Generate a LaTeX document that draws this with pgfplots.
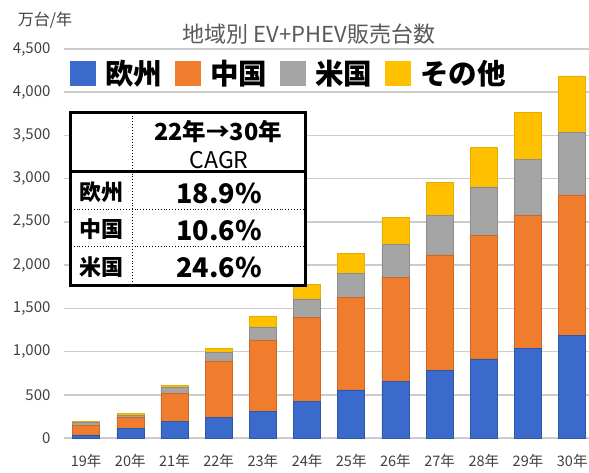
\documentclass[border=0pt]{standalone}
\usepackage{fontspec}
\usepackage{pgfplots}
\pgfplotsset{compat=1.18}
\setmainfont{Noto Sans CJK JP}
\definecolor{cEU}{HTML}{3A6BCC}
\definecolor{cCN}{HTML}{F07C2E}
\definecolor{cUS}{HTML}{A5A5A5}
\definecolor{cOT}{HTML}{FFC000}
\definecolor{tickc}{HTML}{404040}
\definecolor{titlec}{HTML}{595959}
\begin{document}
\begin{tikzpicture}
\begin{axis}[
  at={(64pt,34pt)}, anchor=south west,
  scale only axis, width=525pt, height=389pt,
  ybar stacked, bar width=27pt,
  xmin=-0.5, xmax=11.38, ymin=0, ymax=4500,
  xtick={0,...,11},
  xticklabels={19年,20年,21年,22年,23年,24年,25年,26年,27年,28年,29年,30年},
  ytick={0,500,...,4500},
  ymajorgrids, grid style={line width=1.5pt, color=black!20},
  axis line style={draw=none},
  major tick length=0pt,
  /pgf/number format/.cd, 1000 sep={,}, assume math mode=true, /pgfplots/.cd,
  yticklabel style={font=\fontsize{15}{15}\selectfont, text=tickc, xshift=-10pt},
  xticklabel style={font=\fontsize{14.5}{14.5}\selectfont, text=tickc, yshift=-13pt},
  legend columns=4,
  legend style={draw=none, fill=none, at={(axis description cs:0.0114,0.9717)}, anchor=north west,
    inner sep=0pt, font=\fontsize{28.5}{28.5}\selectfont\bfseries,
    nodes={inner sep=0pt},
    /tikz/every odd column/.append style={column sep=9pt},
    /tikz/every even column/.append style={column sep=13pt}},
  legend image code/.code={\path[#1, draw=none] (0pt,-12.5pt) rectangle (26pt,12.5pt);},
]
\addplot+[fill=cEU, draw=cEU!80!black, line width=0.5pt] coordinates {(0,35) (1,112) (2,189) (3,235) (4,304) (5,420) (6,556) (7,652) (8,779) (9,914) (10,1034) (11,1184)};
\addplot+[fill=cCN, draw=cCN!85!black, line width=0.5pt] coordinates {(0,115) (1,128) (2,328) (3,656) (4,830) (5,977) (6,1068) (7,1208) (8,1339) (9,1427) (10,1544) (11,1629)};
\addplot+[fill=cUS, draw=cUS!85!black, line width=0.5pt] coordinates {(0,27) (1,26) (2,65) (3,101) (4,151) (5,212) (6,278) (7,378) (8,460) (9,564) (10,643) (11,725)};
\addplot+[fill=cOT, draw=cOT!90!black, line width=0.5pt] coordinates {(0,13) (1,15) (2,28) (3,42) (4,127) (5,170) (6,236) (7,317) (8,382) (9,459) (10,544) (11,652)};
\legend{欧州,中国,米国,その他}
\end{axis}
\begin{scope}[x=1pt, y=-1pt, shift={(0pt,472pt)}]
\node[font=\fontsize{22}{22}\selectfont, text=titlec] at (309,34) {地域別 EV+PHEV販売台数};
\node[font=\fontsize{16}{16}\selectfont, text=tickc] at (45,20) {万台/年};
\fill[white] (70.7,112.7) rectangle (305.7,285.7);
\draw[dotted, line width=0.9pt] (132.7,112.7) -- (132.7,285.7);
\draw[dotted, line width=0.9pt] (70.7,209.3) -- (305.7,209.3);
\draw[dotted, line width=0.9pt] (70.7,246.7) -- (305.7,246.7);
\draw[line width=2.5pt] (70.7,171.7) -- (305.7,171.7);
\draw[line width=2.5pt] (70.7,112.7) rectangle (305.7,285.7);
\node[font=\fontsize{23.5}{23.5}\selectfont\bfseries] at (218,132) {22年→30年};
\node[font=\fontsize{23}{23}\selectfont] at (219,160) {CAGR};
\node[font=\fontsize{22}{22}\selectfont\bfseries] at (101,192) {欧州};
\node[font=\fontsize{22}{22}\selectfont\bfseries] at (101,229) {中国};
\node[font=\fontsize{22}{22}\selectfont\bfseries] at (101,267) {米国};
\node[font=\fontsize{27}{27}\selectfont\bfseries] at (219,193) {18.9\%};
\node[font=\fontsize{27}{27}\selectfont\bfseries] at (219,230) {10.6\%};
\node[font=\fontsize{27}{27}\selectfont\bfseries] at (219,267) {24.6\%};
\pgfresetboundingbox
\path[use as bounding box] (0,0) rectangle (589,472);
\end{scope}
\end{tikzpicture}
\end{document}
